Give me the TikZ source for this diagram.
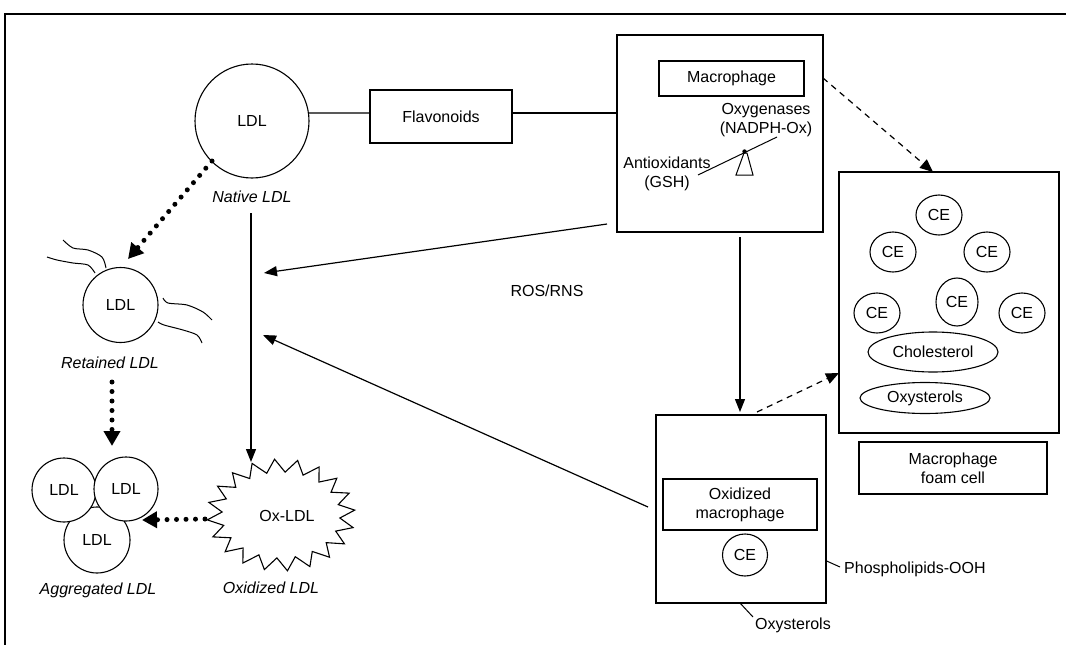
\documentclass[tikz,border=0pt]{standalone}
\usepackage{fontspec}
\setmainfont{Liberation Sans}
\usetikzlibrary{arrows.meta,shapes.geometric,calc}
\begin{document}
\begin{tikzpicture}[x=1pt,y=-1pt,
  every node/.style={font=\fontsize{16}{19}\selectfont, inner sep=0pt},
  lbl/.style={font=\fontsize{16}{19}\selectfont\itshape},
  boxn/.style={draw, line width=1.3pt, rectangle, align=center},
  circn/.style={draw, circle, line width=1.1pt, fill=white},
  cen/.style={draw, ellipse, line width=1.1pt, minimum width=46pt, minimum height=40pt},
  sarr/.style={line width=1.2pt, -{Triangle[length=13pt,width=10pt]}},
  darr/.style={line width=1.2pt, dash pattern=on 6pt off 5pt, -{Triangle[length=13pt,width=11pt]}},
  dotarr/.style={line width=5pt, line cap=round, dash pattern=on 0pt off 9.5pt, -{Triangle[length=15pt,width=16pt]}},
  wig/.style={line width=1pt}
]
\useasboundingbox (0,0) rectangle (1066,645);
% frame
\draw[line width=2pt] (5,645) -- (5,14) -- (1066,14);

% Native LDL
\node[circn, minimum size=114pt] (ldl) at (252,121) {LDL};
\node[lbl] (nativel) at (252,197) {Native LDL};

% Flavonoids
\node[boxn, minimum width=142pt, minimum height=53pt] (flav) at (441,116.5) {Flavonoids};

% Macrophage box
\node[boxn, minimum width=206pt, minimum height=197pt] (mac) at (720,133.5) {};
\node[boxn, minimum width=145pt, minimum height=35pt] (macin) at (731.5,78.5) {Macrophage};
\node[align=center] (oxyg) at (766,120) {Oxygenases\\(NADPH-Ox)};
\node[align=center] (antiox) at (667,173.5) {Antioxidants\\(GSH)};
\draw[line width=1pt] (744,153) -- (747,153) -- (753,175) -- (736,175) -- cycle;
\coordinate (levl) at (698,175);
\coordinate (levr) at (777,137);
\draw[line width=1pt] (levl) -- (levr);
\fill (744.5,151.5) circle (2.2pt);

\coordinate (lvl) at (0,113);
\draw[line width=1.2pt] (ldl.8) -- (lvl -| flav.west);
\draw[line width=1.2pt] (lvl -| flav.east) -- (lvl -| mac.west);

% Retained LDL
\node[circn, minimum size=75pt] (ret) at (120.5,305) {LDL};
\node[lbl] (retl) at (110,363) {Retained LDL};
\draw[wig] plot[smooth] coordinates {(106,268) (102,257) (88,250) (73,248) (63,240)};
\draw[wig] plot[smooth] coordinates {(95,273) (88,265) (73,263) (57,260) (47,257)};
\draw[wig] plot[smooth] coordinates {(163,298) (168,303) (187,305) (203,312) (212,320)};
\draw[wig] plot[smooth] coordinates {(158,322) (164,325) (183,330) (197,335) (202,343)};

% Aggregated LDL
\node[circn, minimum size=66pt] (ag3) at (97,540) {LDL};
\node[circn, minimum size=64pt] (ag1) at (64,490) {LDL};
\node[circn, minimum size=64pt] (ag2) at (126,489) {LDL};
\node[lbl] (agl) at (98,590) {Aggregated LDL};

% Ox-LDL star
\draw[line width=1.1pt, fill=white] plot[samples=41, domain=0:40]
  ({281+ifthenelse(mod(round(\x),2)==0,74,59)*cos(\x*9+95)},
   {515-ifthenelse(mod(round(\x),2)==0,56,43)*sin(\x*9+95)}) -- cycle;
\node (oxldl) at (287,516) {Ox-LDL};
\node[lbl] (oxl) at (271,588) {Oxidized LDL};

% dotted arrows
\coordinate (d1s) at (212,161);
\coordinate (d1e) at (128,259);
\draw[dotarr] (d1s) -- (d1e);
\coordinate (d2s) at (112,382);
\coordinate (d2e) at (112,446);
\draw[dotarr] (d2s) -- (d2e);
\coordinate (d3s) at (205,519);
\coordinate (d3e) at (142,520);
\draw[dotarr] (d3s) -- (d3e);

% native -> ox
\coordinate (n1s) at (251,213);
\coordinate (n1e) at (251,462);
\draw[sarr] (n1s) -- (n1e);

% ROS/RNS arrows
\coordinate (r1s) at (607,224);
\coordinate (r1e) at (264,273);
\draw[sarr] (r1s) -- (r1e);
\node (ros) at (547,291) {ROS/RNS};
\coordinate (r2s) at (648,507);
\coordinate (r2e) at (263,335);
\draw[sarr] (r2s) -- (r2e);

% Oxidized macrophage box
\node[boxn, minimum width=170pt, minimum height=188pt] (oxm) at (741,509) {};
\node[boxn, minimum width=154pt, minimum height=51pt] (oxmin) at (740,504.5) {Oxidized\\macrophage};
\node[cen, minimum width=45pt, minimum height=42pt] (ceo) at (745,555) {CE};
\draw[line width=1pt] (oxm.east |- 0,561) -- (840,567);
\node[anchor=west] (phos) at (844,569) {Phospholipids-OOH};
\draw[line width=1pt] (740,603) -- (753,617);
\node (oxys2) at (793,625) {Oxysterols};

% macrophage -> ox macrophage
\coordinate (v1s) at (740,237);
\coordinate (v1e) at (740,412);
\draw[sarr] (v1s) -- (v1e);

% Foam cell
\node[boxn, minimum width=220pt, minimum height=261pt] (foam) at (949,302.5) {};
\node[cen] (ce1) at (939,215) {CE};
\node[cen] (ce2) at (893,252) {CE};
\node[cen] (ce3) at (987,252) {CE};
\node[cen] (ce4) at (877,313) {CE};
\node[cen, minimum width=42pt, minimum height=48pt] (ce5) at (957,302) {CE};
\node[cen] (ce6) at (1022,313) {CE};
\node[cen, minimum width=130pt, minimum height=40pt] (chol) at (933,352) {Cholesterol};
\node[cen, minimum width=130pt, minimum height=31pt] (oxys) at (925,398) {Oxysterols};
\node[boxn, minimum width=188pt, minimum height=52pt] (foaml) at (953,468) {Macrophage\\foam cell};

% dashed arrows
\coordinate (e1s) at (823,78);
\coordinate (e1e) at (933,172);
\draw[darr] (e1s) -- (e1e);
\coordinate (e2s) at (757,412);
\coordinate (e2e) at (839,373);
\draw[darr] (e2s) -- (e2e);
\end{tikzpicture}
\end{document}
